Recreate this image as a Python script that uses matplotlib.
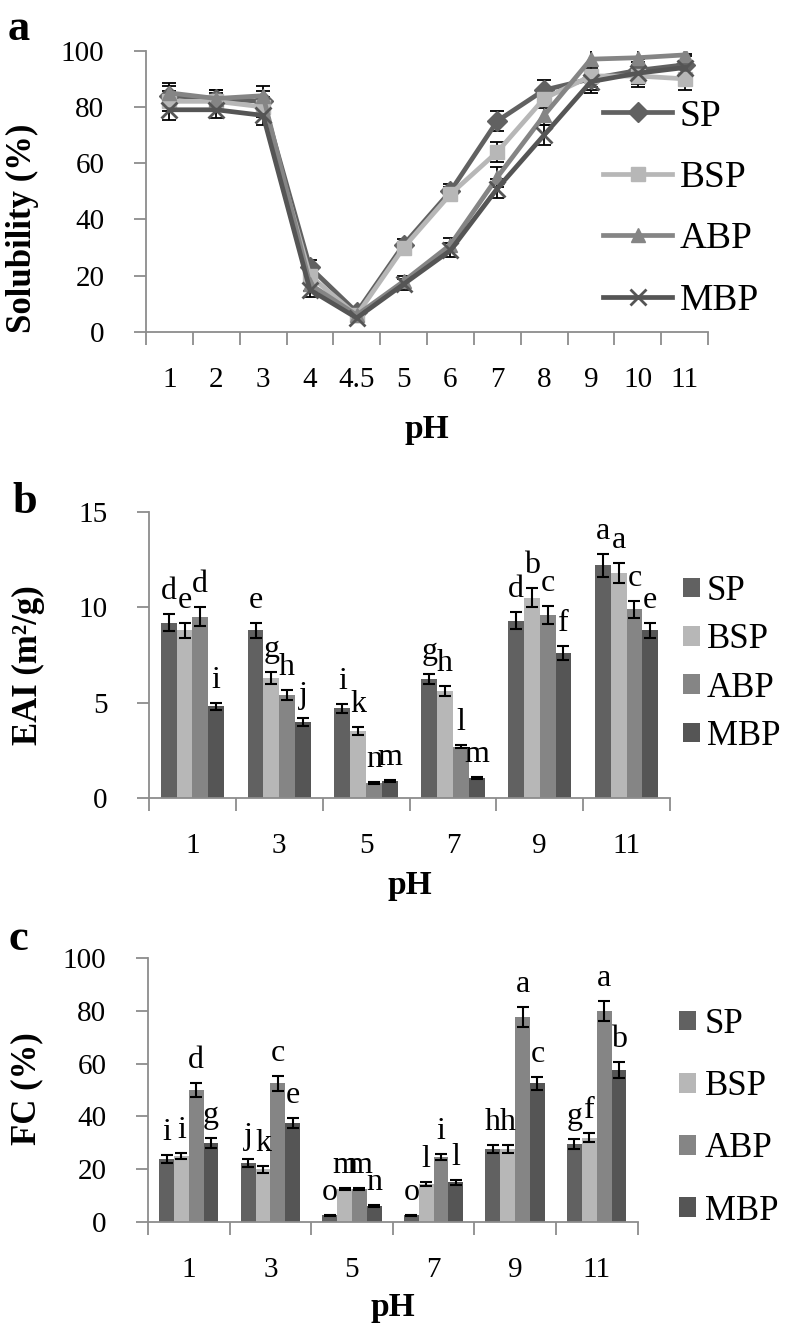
import matplotlib
matplotlib.use("Agg")
import matplotlib.pyplot as plt
import numpy as np

plt.rcParams['font.family'] = ['Liberation Serif', 'DejaVu Serif']

series = ['SP', 'BSP', 'ABP', 'MBP']

# panel a: solubility vs pH
ph_a = ['1', '2', '3', '4', '4.5', '5', '6', '7', '8', '9', '10', '11']
sol_sp = [84, 83, 82, 23, 7, 31, 50, 75, 86, 90, 93, 95]
sol_bsp = [82, 82, 80, 20, 6, 30, 49, 64, 83, 91, 91, 90]
sol_abp = [85, 83, 84, 17, 6, 18, 31, 55, 77, 97, 97.5, 98.5]
sol_mbp = [79, 79, 77, 15, 5, 17, 29, 51, 70, 89, 92, 94]
sol_err = [3.5, 3, 3.5, 2.5, 1.5, 2, 2.5, 3.5, 3.5, 4, 4, 4]

# panel b: EAI
ph_b = ['1', '3', '5', '7', '9', '11']
eai_sp = [9.2, 8.8, 4.7, 6.25, 9.3, 12.2]
eai_bsp = [8.8, 6.3, 3.5, 5.6, 10.5, 11.8]
eai_abp = [9.5, 5.4, 0.8, 2.7, 9.6, 9.9]
eai_mbp = [4.8, 4.0, 0.9, 1.05, 7.6, 8.8]
eai_err_sp = [0.45, 0.4, 0.25, 0.25, 0.45, 0.6]
eai_err_bsp = [0.4, 0.3, 0.2, 0.25, 0.5, 0.5]
eai_err_abp = [0.5, 0.25, 0.05, 0.1, 0.45, 0.45]
eai_err_mbp = [0.2, 0.2, 0.05, 0.05, 0.35, 0.4]
eai_let_sp = ['d', 'e', 'i', 'g', 'd', 'a']
eai_let_bsp = ['e', 'g', 'k', 'h', 'b', 'a']
eai_let_abp = ['d', 'h', 'n', 'l', 'c', 'c']
eai_let_mbp = ['i', 'j', 'm', 'm', 'f', 'e']

# panel c: FC
fc_sp = [24, 22.3, 2.5, 2.5, 27.5, 29.5]
fc_bsp = [25, 20, 12.5, 14.5, 27.5, 32]
fc_abp = [50, 52.5, 12.5, 24.5, 77.5, 80]
fc_mbp = [30, 37.5, 6, 15, 52.5, 57.5]
fc_err_sp = [1.5, 1.5, 0.3, 0.3, 1.5, 1.8]
fc_err_bsp = [1.2, 1.3, 0.5, 0.8, 1.5, 1.8]
fc_err_abp = [2.5, 2.8, 0.5, 1.2, 3.8, 3.8]
fc_err_mbp = [2, 2, 0.5, 1, 2.5, 3]
fc_let_sp = ['i', 'j', 'o', 'o', 'h', 'g']
fc_let_bsp = ['i', 'k', 'm', 'l', 'h', 'f']
fc_let_abp = ['d', 'c', 'm', 'i', 'a', 'a']
fc_let_mbp = ['g', 'e', 'n', 'l', 'c', 'b']

colors = ['#616161', '#b7b7b7', '#858585', '#555555']
markers = ['D', 's', '^', 'x']

W, H = 786, 1326
fig = plt.figure(figsize=(W / 100, H / 100), dpi=100)


def px_axes(l, r, t, b):
    return fig.add_axes([l / W, 1 - b / H, (r - l) / W, (b - t) / H])


def style(ax, labels):
    n = len(labels)
    for s in ['top', 'right']:
        ax.spines[s].set_visible(False)
    for s in ['left', 'bottom']:
        ax.spines[s].set_color('#8c8c8c')
        ax.spines[s].set_linewidth(1.3)
    ax.set_xlim(-0.5, n - 0.5)
    ax.set_xticks(np.arange(n + 1) - 0.5)
    ax.set_xticklabels([])
    ax.set_xticks(np.arange(n), minor=True)
    ax.set_xticklabels(labels, minor=True, fontsize=21)
    ax.tick_params(axis='x', which='major', length=9, width=1.3, color='#8c8c8c')
    ax.tick_params(axis='x', which='minor', length=0, pad=25)
    ax.tick_params(axis='y', length=9, width=1.3, color='#8c8c8c', labelsize=21, pad=21)


# ---- panel a
ax = px_axes(146, 708, 50.7, 332)
x = np.arange(len(ph_a))
for vals, c, m, name in zip([sol_sp, sol_bsp, sol_abp, sol_mbp], colors, markers, series):
    ax.errorbar(x, vals, yerr=sol_err, fmt='none', ecolor='black', elinewidth=1.3,
                capsize=5, capthick=1.3, zorder=2)
    ax.plot(x, vals, color=c, lw=3.4, marker=m, markersize=10 if m != 'x' else 12,
            markeredgewidth=2 if m == 'x' else 1, label=name, zorder=3)
ax.set_ylim(0, 100)
ax.set_yticks(range(0, 101, 20))
style(ax, ph_a)
fig.legend(*ax.get_legend_handles_labels(), loc='upper left',
           bbox_to_anchor=(603 / W, 1 - 99 / H), frameon=False, fontsize=27,
           handlelength=1.84, handletextpad=0.21, labelspacing=0.72,
           borderpad=0, borderaxespad=0)


def bar_panel(ax, vals, errs, lets, ylim, yticks, labels):
    n = len(labels)
    w = 0.182
    x = np.arange(n)
    for k, (v, e, lt, c, name) in enumerate(zip(vals, errs, lets, colors, series)):
        xs = x + (k - 1.5) * w
        ax.bar(xs, v, width=w, color=c, label=name, zorder=2)
        ax.errorbar(xs, v, yerr=e, fmt='none', ecolor='black', elinewidth=1.5,
                    capsize=4.5, capthick=1.5, zorder=3)
        for xi, vi, ei, li in zip(xs, v, e, lt):
            ax.annotate(li, (xi, vi + ei), xytext=(0, 15), textcoords='offset pixels',
                        ha='center', va='baseline', fontsize=23)
    ax.set_ylim(*ylim)
    ax.set_yticks(yticks)
    style(ax, labels)


ax_b = px_axes(149, 670, 512, 798)
bar_panel(ax_b, [eai_sp, eai_bsp, eai_abp, eai_mbp],
          [eai_err_sp, eai_err_bsp, eai_err_abp, eai_err_mbp],
          [eai_let_sp, eai_let_bsp, eai_let_abp, eai_let_mbp],
          (0, 15), [0, 5, 10, 15], ph_b)
fig.legend(*ax_b.get_legend_handles_labels(), loc='upper left',
           bbox_to_anchor=(683 / W, 1 - 575 / H), frameon=False, fontsize=25,
           handlelength=0.49, handleheight=0.49, handletextpad=0.2, labelspacing=0.44,
           borderpad=0, borderaxespad=0)

ax_c = px_axes(148, 637.5, 958, 1222)
bar_panel(ax_c, [fc_sp, fc_bsp, fc_abp, fc_mbp],
          [fc_err_sp, fc_err_bsp, fc_err_abp, fc_err_mbp],
          [fc_let_sp, fc_let_bsp, fc_let_abp, fc_let_mbp],
          (0, 100), range(0, 101, 20), ph_b)
fig.legend(*ax_c.get_legend_handles_labels(), loc='upper left',
           bbox_to_anchor=(679 / W, 1 - 1008 / H), frameon=False, fontsize=25,
           handlelength=0.49, handleheight=0.49, handletextpad=0.26, labelspacing=0.84,
           borderpad=0, borderaxespad=0)

# axis titles and panel letters
fig.text(22 / W, 1 - 228 / H, 'Solubility (%)', rotation=90, ha='center', va='center',
         fontsize=25, fontweight='bold')
fig.text(28 / W, 1 - 665 / H, 'EAI (m²/g)', rotation=90, ha='center', va='center',
         fontsize=25, fontweight='bold')
fig.text(27 / W, 1 - 1089 / H, 'FC (%)', rotation=90, ha='center', va='center',
         fontsize=25, fontweight='bold')
fig.text(427 / W, 1 - 438 / H, 'pH', ha='center', va='baseline', fontsize=24, fontweight='bold')
fig.text(410 / W, 1 - 894 / H, 'pH', ha='center', va='baseline', fontsize=24, fontweight='bold')
fig.text(393 / W, 1 - 1316 / H, 'pH', ha='center', va='baseline', fontsize=24, fontweight='bold')
fig.text(8 / W, 1 - 40 / H, 'a', ha='left', va='baseline', fontsize=32, fontweight='bold')
fig.text(12 / W, 1 - 513 / H, 'b', ha='left', va='baseline', fontsize=32, fontweight='bold')
fig.text(8 / W, 1 - 950 / H, 'c', ha='left', va='baseline', fontsize=32, fontweight='bold')

fig.savefig('out.png', dpi=100)
